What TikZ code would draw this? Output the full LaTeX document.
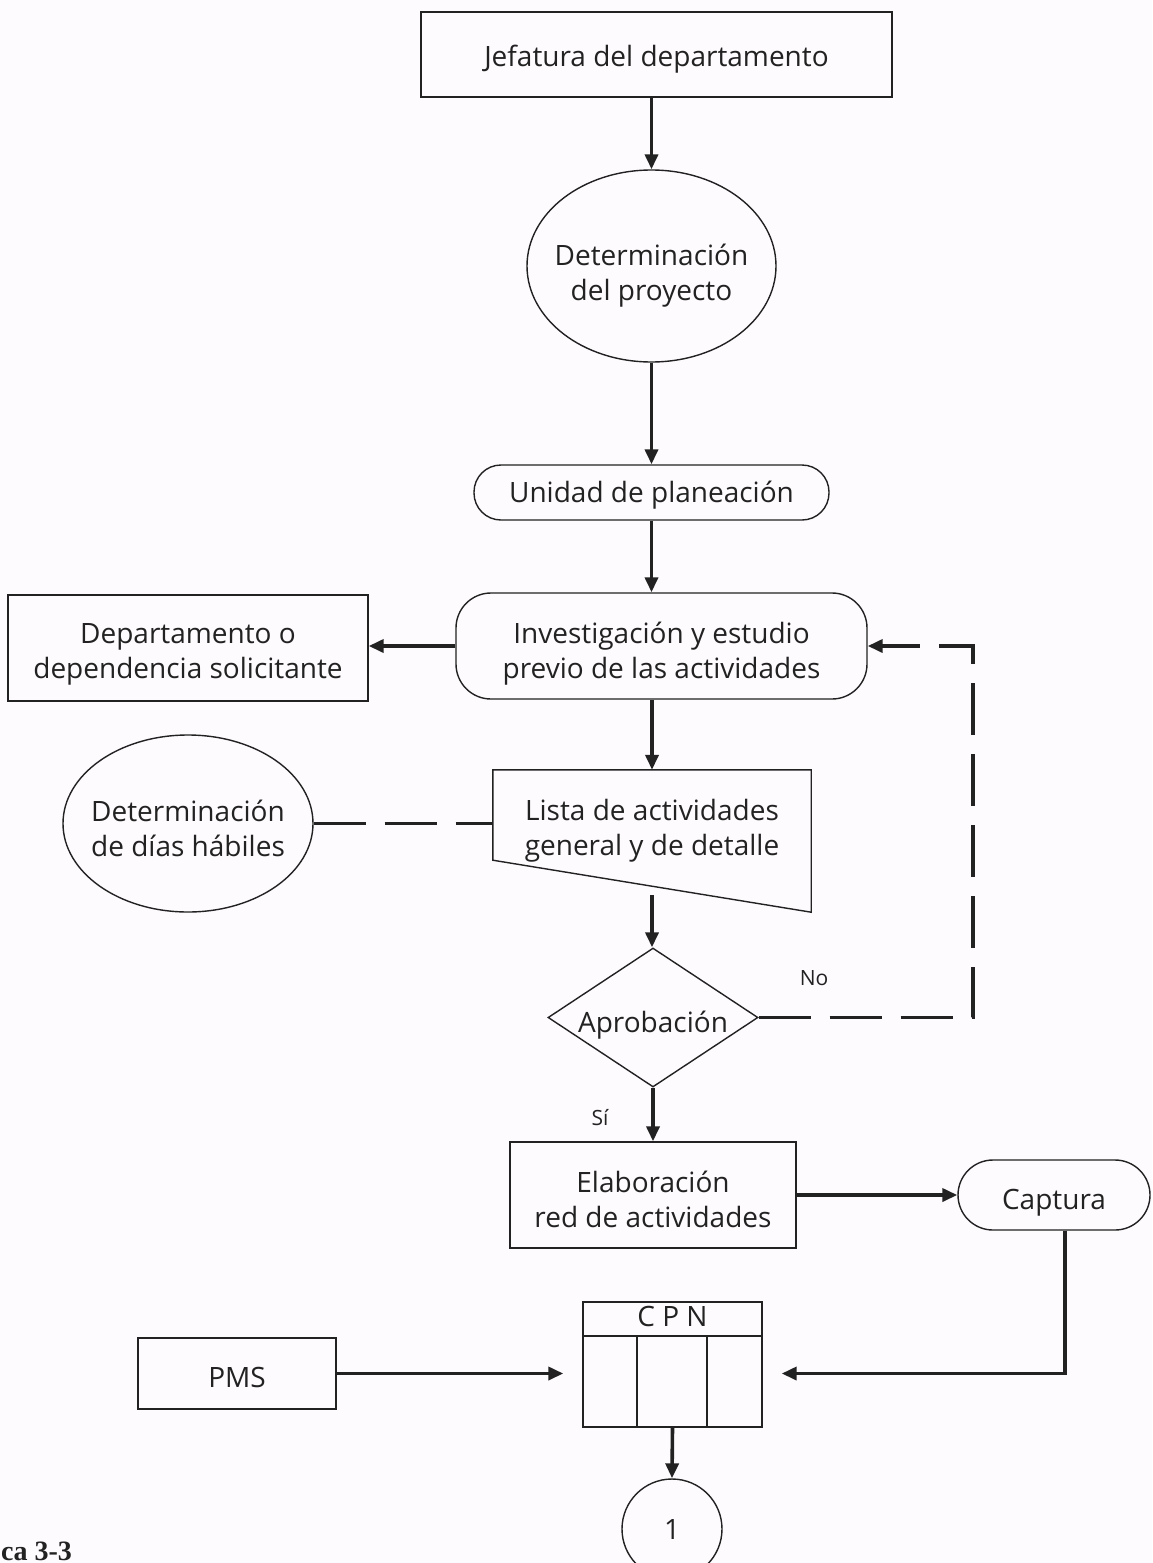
\documentclass[tikz,border=0pt]{standalone}
\usepackage{fontspec}
\setmainfont{Open Sans}
\newfontfamily\captionserif{Liberation Serif}
\usetikzlibrary{arrows.meta,shapes.geometric,calc}

\definecolor{ink}{HTML}{222222}
\definecolor{paper}{HTML}{FEFBFE}

\begin{document}
\begin{tikzpicture}[x=1pt,y=1pt,
  every node/.style={font=\fontsize{28}{35}\selectfont, text=ink, align=center, inner sep=0pt},
  box/.style={draw=ink, line width=1.4pt},
  outline/.style={draw=ink, line width=1.4pt},
  flow/.style={draw=ink, line width=3.6pt, -{Triangle[length=15pt,width=13pt]}},
  dashlink/.style={draw=ink, line width=3.6pt, dash pattern=on 52pt off 19pt},
  small/.style={font=\fontsize{21}{25}\selectfont},
]
% page frame
\useasboundingbox (0,0) rectangle (1152,-1563);
\clip (0,0) rectangle (1152,-1563);
\fill[paper] (0,0) rectangle (1152,-1563);

% ---- shapes ----
\node[box, minimum width=471pt, minimum height=85pt] (jef) at (656.5,-54.5) {};
\node[box, ellipse, minimum width=249pt, minimum height=192pt] (proy) at (651.5,-266) {};
\node[box, rounded corners=27pt, minimum width=355pt, minimum height=55pt] (unid) at (651.5,-492.5) {};
\node[box, rounded corners=35pt, minimum width=411pt, minimum height=106pt] (inv) at (661.5,-646) {};
\node[box, minimum width=360pt, minimum height=106pt] (dep) at (188,-648) {};

% list of activities: manual-input trapezoid
\node[minimum width=318pt, minimum height=142pt] (listabox) at (652,-841) {};
\coordinate (lbl) at ($(listabox.south west)+(0,52)$);
\coordinate (lbm) at ($(lbl)!0.5!(listabox.south east)$);
\draw[outline] (listabox.north west) -- (listabox.north east) -- (listabox.south east) -- (lbl) -- cycle;

\node[box, ellipse, minimum width=250pt, minimum height=177pt] (dias) at (188,-823.5) {};
\node[box, diamond, aspect=1.5, minimum width=210pt, minimum height=139pt] (apr) at (653,-1017.5) {};
\node[box, minimum width=286pt, minimum height=106pt] (elab) at (653,-1195) {};
\node[box, rounded corners=35pt, minimum width=192pt, minimum height=70pt] (cap) at (1054,-1195) {};
\node[box, minimum width=198pt, minimum height=71pt] (pms) at (237,-1373.5) {};

% CPN table
\node[box, minimum width=179pt, minimum height=125pt] (cpn) at (672.5,-1364.5) {};
\coordinate (hdr) at (0,-1336);
\coordinate (colA) at (637,0);
\coordinate (colB) at (707,0);
\draw[outline] (cpn.west |- hdr) -- (cpn.east |- hdr);
\draw[outline] (colA |- hdr) -- (colA |- cpn.south);
\draw[outline] (colB |- hdr) -- (colB |- cpn.south);

\node[box, circle, minimum size=100pt] (one) at (672,-1529) {};

% ---- texts ----
\node (jeft)  at (656.5,-59.5) {Jefatura del departamento};
\node (proyt) at (651.5,-276) {Determinación\\del proyecto};
\node (unidt) at (651.5,-495.5) {Unidad de planeación};
\node (invt)  at (661.5,-654) {Investigación y estudio\\previo de las actividades};
\node (dept)  at (188,-654) {Departamento o\\dependencia solicitante};
\node (listat) at (652,-831) {Lista de actividades\\general y de detalle};
\node (diast) at (188,-828) {Determinación\\de días hábiles};
\node (aprt)  at (653,-1025) {Aprobación};
\node[small] (no) at (814,-978) {No};
\node[small] (si) at (600,-1118) {Sí};
\node (elabt) at (653,-1199) {Elaboración\\red de actividades};
\node (capt)  at (1054,-1203) {Captura};
\node (pmst)  at (237,-1377.5) {PMS};
\node (cpnt)  at (672.5,-1316) {C P N};
\node (onet)  at (672,-1529) {1};
\node[font=\captionserif\bfseries\fontsize{28}{28}\selectfont, anchor=base west] (fig) at (1,-1560) {ca 3-3};

% ---- connectors ----
\draw[flow] (proy.north |- jef.south) -- (proy.north);
\draw[flow] (proy.south) -- (unid.north);
\draw[flow] (unid.south) -- (unid.south |- inv.north);
\draw[flow] (inv.west) -- (inv.west -| dep.east);
\draw[flow] (listabox.north |- inv.south) -- (listabox.north);
\draw[dashlink] (dias.east) -- (dias.east -| listabox.west);
\draw[flow, shorten <=9pt] (lbm) -- (lbm |- apr.north);
\coordinate (loop) at (973,0);
\draw[dashlink, -{Triangle[length=15pt,width=13pt]}] (apr.east) -- (apr.east -| loop) -- (loop |- inv.east) -- (inv.east);
\draw[flow] (apr.south) -- (elab.north);
\draw[flow] (elab.east) -- (cap.west);
\draw[flow, shorten >=19pt] ([xshift=11pt]cap.south) |- (cpn.east |- pms.east);
\draw[flow, shorten >=19pt] (pms.east) -- (pms.east -| cpn.west);
\draw[flow] (cpn.south) -- (one.north);
\end{tikzpicture}
\end{document}
